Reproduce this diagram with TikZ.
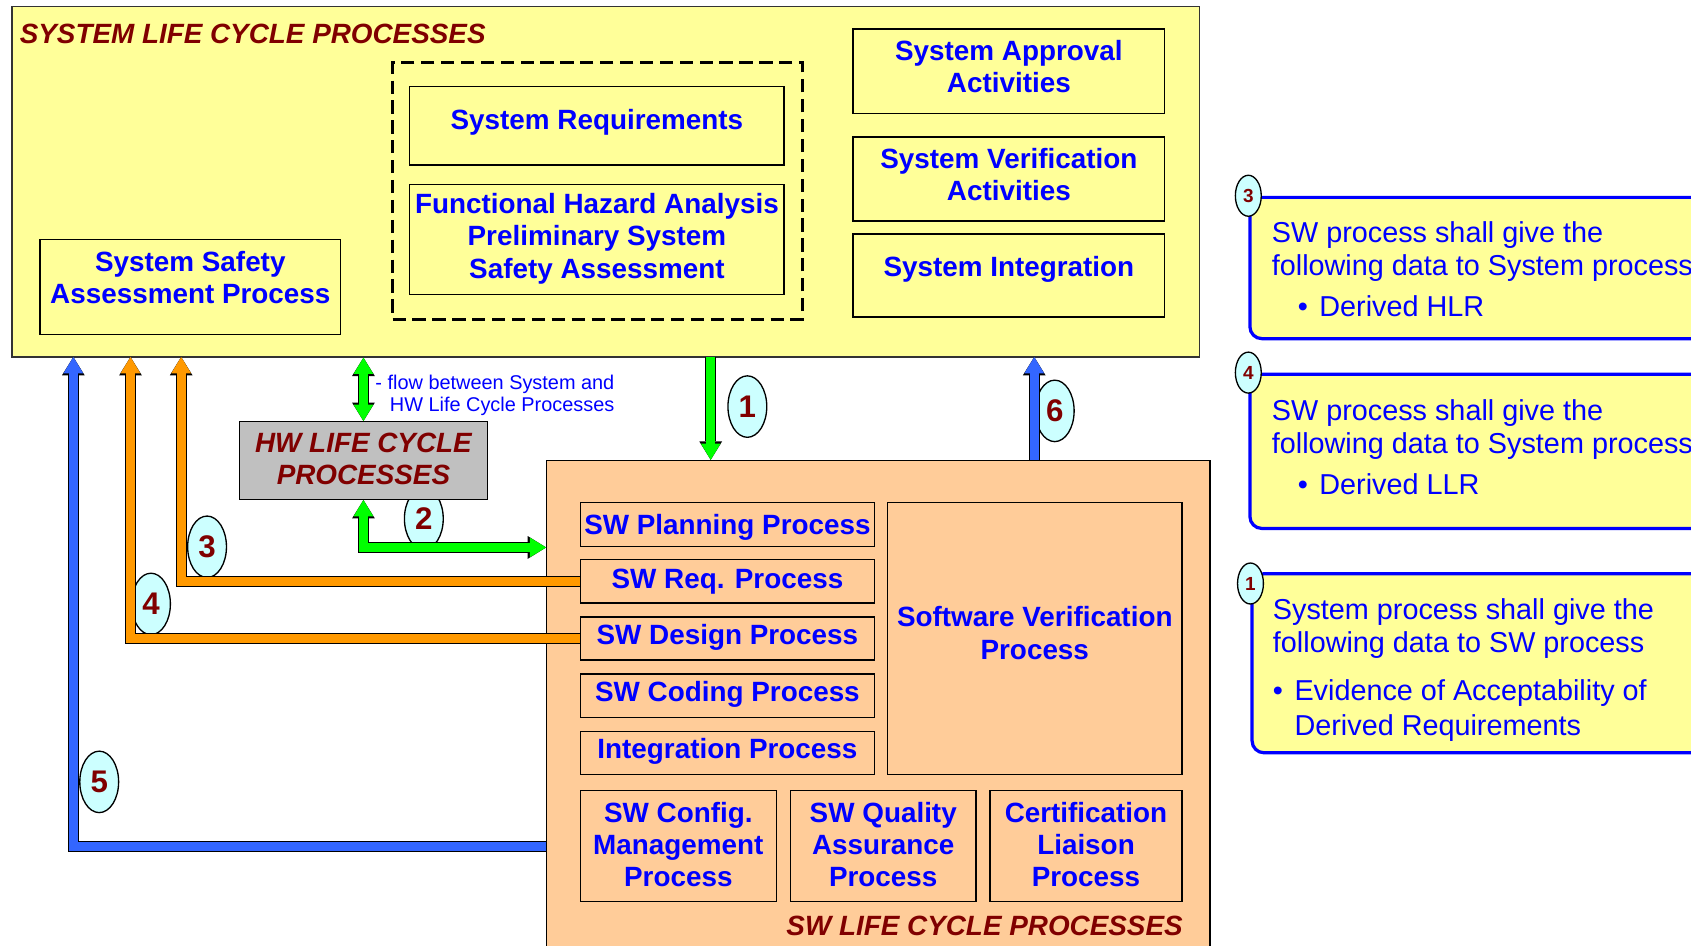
\documentclass[tikz,border=0pt]{standalone}
\usepackage{fontspec}
\setmainfont{Liberation Sans}
\usetikzlibrary{arrows.meta,fit,shapes.geometric}

\definecolor{sysyellow}{HTML}{FFFF99}
\definecolor{swpeach}{HTML}{FFCC99}
\definecolor{hwgray}{HTML}{C0C0C0}
\definecolor{titlered}{HTML}{800000}
\definecolor{procblue}{HTML}{0000FF}
\definecolor{arrgreen}{HTML}{00FF00}
\definecolor{arrorange}{HTML}{FF9900}
\definecolor{arrblue}{HTML}{3366FF}
\definecolor{numcyan}{HTML}{CCFFFF}

\newcommand{\procfont}{\fontsize{14.7pt}{17.1pt}\selectfont\bfseries}
\newcommand{\notefont}{\fontsize{15.2pt}{17.4pt}\selectfont}
\newcommand{\bul}{\makebox[11.4pt][l]{\textbullet}}

\begin{document}
\begin{tikzpicture}[x=0.02cm, y=-0.02cm, line join=miter, font=\procfont]
	\tikzset{
		proc/.style={draw=black, line width=0.7pt, inner sep=0pt},
		proctext/.style={text=procblue, align=center, inner sep=0pt},
		bigtitle/.style={text=titlered, font=\procfont\itshape, inner sep=0pt},
		num/.style={ellipse, draw=black, line width=0.7pt, fill=numcyan, inner sep=0pt, text=titlered,
			minimum width=0.72cm, minimum height=1.14cm, font=\fontsize{16.5pt}{18pt}\selectfont\bfseries},
		tag/.style={num, minimum width=0.48cm, minimum height=0.76cm, font=\fontsize{10pt}{11pt}\selectfont\bfseries},
		notebox/.style={draw=procblue, line width=1.7pt, fill=sysyellow, rounded corners=0.22cm, inner sep=0pt},
		notetext/.style={text=procblue, font=\notefont, align=left, inner sep=0pt, anchor=north west},
		tipc/.tip={Triangle[width=10.4pt, length=8.6pt, line width=0pt]},
		tipk/.tip={Triangle[width=12pt, length=9.7pt, line width=0pt]},
		fatarrow/.style={draw=#1, line width=4.7pt, -tipc,
			preaction={draw=black, line width=5.8pt, -tipk}},
		fatboth/.style={draw=#1, line width=4.7pt, tipc-tipc,
			preaction={draw=black, line width=5.8pt, tipk-tipk}},
	}
	\useasboundingbox (0,0) rectangle (1568,877);
	% system life cycle
	\node[proc, fill=sysyellow, draw=black!80, fit={(11,6) (1112,331)}] (sys) {};
	\node[bigtitle, anchor=base west] (systitle) at (18,40) {SYSTEM LIFE CYCLE PROCESSES};
	\node[draw=black, line width=1.6pt, dash pattern=on 7pt off 3.5pt, inner sep=0pt, fit={(364,58) (744,296)}] (hazgrp) {};
	\node[proc, fit={(380,80) (727,153)}] (sreq) {};
	\node[proctext] (sreqtxt) at ([yshift=2pt]sreq) {System Requirements};
	\node[proc, fit={(380,171) (727,273)}] (fha) {};
	\node[proctext] (fhatxt) at ([yshift=0.4pt]fha) {Functional Hazard Analysis\\Preliminary System\\Safety Assessment};
	\node[proc, fit={(37,222) (316,310)}] (ssa) {};
	\node[proctext] (ssatxt) at ([yshift=5pt]ssa) {System Safety\\Assessment Process};
	\node[proc, fit={(791,27) (1080,105)}] (sapp) {};
	\node[proctext] (sapptxt) at ([yshift=2.5pt]sapp) {System Approval\\Activities};
	\node[proc, fit={(791,127) (1080,205)}] (sver) {};
	\node[proctext] (svertxt) at ([yshift=2.5pt]sver) {System Verification\\Activities};
	\node[proc, fit={(791,217) (1080,294)}] (sint) {};
	\node[proctext] (sinttxt) at ([yshift=3.2pt]sint) {System Integration};
	% numbers
	\node[num] (n1) at (693,377) {1};
	\node[num] (n6) at (978,381) {6};
	\node[num] (n2) at (393,481) {2};
	\node[num] (n3) at (192,507) {3};
	\node[num] (n4) at (140,560) {4};
	\node[num] (n5) at (92,725) {5};
	% hw and sw life cycle
	\node[proc, fill=hwgray, fit={(222,391) (452,463)}] (hw) {};
	\node[proctext, text=titlered, font=\procfont\itshape] (hwtxt) at ([yshift=1pt]hw) {HW LIFE CYCLE\\PROCESSES};
	\node[text=procblue, font=\fontsize{10.5pt}{12pt}\selectfont, align=right, inner sep=0pt, anchor=north east] (flowtxt) at (570,347) {- flow between System and\\HW Life Cycle Processes};
	\node[proc, fill=swpeach, fit={(507,427) (1122,900)}] (sw) {};
	\node[bigtitle, anchor=base east] (swtitle) at (1097,867) {SW LIFE CYCLE PROCESSES};
	\node[proc, fit={(538,466) (811,507)}] (swplan) {};
	\node[proctext] (swplantxt) at ([yshift=-1.5pt]swplan) {SW Planning Process};
	\node[proc, fit={(538,519) (811,559)}] (swreq) {};
	\node[proctext] (swreqtxt) at (swreq) {SW Req. Process};
	\node[proc, fit={(538,572) (811,612)}] (swdes) {};
	\node[proctext] (swdestxt) at ([yshift=0.5pt]swdes) {SW Design Process};
	\node[proc, fit={(538,625) (811,665)}] (swcode) {};
	\node[proctext] (swcodetxt) at ([yshift=0.6pt]swcode) {SW Coding Process};
	\node[proc, fit={(538,678) (811,718)}] (swint) {};
	\node[proctext] (swinttxt) at ([yshift=0.6pt]swint) {Integration Process};
	\node[proc, fit={(823,466) (1096,718)}] (swver) {};
	\node[proctext] (swvertxt) at ([yshift=2.8pt]swver) {Software Verification\\Process};
	\node[proc, fit={(538,733) (720,836)}] (swcm) {};
	\node[proctext] (swcmtxt) at ([yshift=0.8pt]swcm) {SW Config.\\Management\\Process};
	\node[proc, fit={(733,733) (905,836)}] (swqa) {};
	\node[proctext] (swqatxt) at ([yshift=0.8pt]swqa) {SW Quality\\Assurance\\Process};
	\node[proc, fit={(918,733) (1096,836)}] (cert) {};
	\node[proctext] (certtxt) at ([yshift=0.8pt]cert) {Certification\\Liaison\\Process};
	% data flows
	\coordinate (up5) at (68,331);
	\coordinate (up4) at (121,331);
	\coordinate (up3) at (168,331);
	\coordinate (down1) at (659,331);
	\coordinate (up6) at (959,331);
	\draw[fatarrow=arrgreen] (down1) -- (down1 |- sw.north);
	\draw[fatarrow=arrblue] (up6 |- sw.north) -- (up6);
	\draw[fatboth=arrgreen] (hw.north) -- (hw.north |- sys.south);
	\draw[fatboth=arrgreen] (hw.south) |- (sw.west |- swplan.south);
	\draw[fatarrow=arrorange] (swreq.west) -| (up3);
	\draw[fatarrow=arrorange] (swdes.west) -| (up4);
	\draw[fatarrow=arrblue] (sw.west |- swcm.center) -| (up5);
	% notes
	\node[notebox, fit={(1159,183) (1620,314)}] (note3) {};
	\node[tag] (tag3) at (note3.north west) {3};
	\node[notetext] (txt3) at (1179,205) {SW process shall give the\\following data to System process\\[4.6pt]\hspace*{13.7pt}\bul Derived HLR};
	\node[notebox, fit={(1159,347) (1620,490)}] (note4) {};
	\node[tag] (tag4) at (note4.north west) {4};
	\node[notetext] (txt4) at (1179,370) {SW process shall give the\\following data to System process\\[4.6pt]\hspace*{13.7pt}\bul Derived LLR};
	\node[notebox, fit={(1161,532) (1620,698)}] (note1) {};
	\node[tag] (tag1) at ([yshift=-6pt]note1.north west) {1};
	\node[notetext] (txt1) at (1180,555) {System process shall give the\\following data to SW process\\[7.7pt]\bul Evidence of Acceptability of\\[1.4pt]\hspace*{11.4pt}Derived Requirements};
\end{tikzpicture}
\end{document}
